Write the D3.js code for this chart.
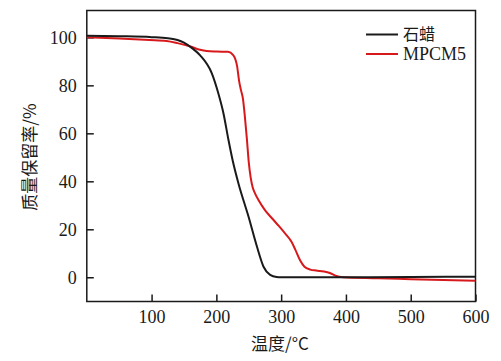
<!DOCTYPE html>
<html>
<head>
<meta charset="utf-8">
<script src="https://cdn.jsdelivr.net/npm/d3@7"></script>
<style>
  html, body { margin: 0; padding: 0; background: #fff; }
  text { font-family: "Liberation Serif", "Times New Roman", serif; fill: #1a1a1a; }
  .cjk { font-family: "Noto Sans CJK SC", sans-serif; }
</style>
</head>
<body>
<div id="container"></div>
<script>
// paraffin (石蜡)
const waxT = [0, 50, 100, 125, 140, 150, 163, 175, 193, 203, 211, 218.7, 225, 234, 249.6, 262.6, 272.8, 283, 293, 300, 400, 500, 600];
const waxV = [100.7, 100.5, 100.1, 99.6, 98.9, 97.8, 95.4, 92.5, 85, 76.7, 68.3, 57.2, 48.9, 39.2, 25.3, 12.8, 4.4, 1, 0.1, 0, 0, 0.1, 0.25];

// MPCM5
const mpcmT = [0, 50, 97, 123, 140, 160, 175, 185, 200, 218, 226, 232, 235, 238, 241, 244, 247, 250, 253, 256, 260, 265, 275, 285.8, 295, 306, 316, 322, 329, 336, 345, 354, 366, 375, 385, 395, 450, 500, 600];
const mpcmV = [100, 99.5, 98.9, 98.5, 97.6, 96.2, 94.8, 94.3, 94.1, 94, 92.6, 88, 82, 78, 74.5, 67, 58, 48, 41.5, 37.5, 34.8, 32.2, 28, 24.6, 21.8, 18.3, 14.8, 11.4, 7.2, 4.4, 3.2, 2.8, 2.4, 1.8, 0.5, 0, -0.4, -0.8, -1.4];

const xTicks = [100, 200, 300, 400, 500, 600];
const yTicks = [0, 20, 40, 60, 80, 100];
const seriesNames = ["石蜡", "MPCM5"];
const seriesColors = ["#1a1a1a", "#d7191c"];

const W = 501, H = 361;
const margin = { top: 10.5, right: 25.5, bottom: 59.5, left: 86.8 };
const width = W - margin.left - margin.right;
const height = H - margin.top - margin.bottom;

const svg = d3.select("#container").append("svg")
  .attr("width", W)
  .attr("height", H);

const g = svg.append("g")
  .attr("transform", `translate(${margin.left}, ${margin.top})`);

const x = d3.scaleLinear().domain([0, 600]).range([0, width]);
const y = d3.scaleLinear().domain([-10.1, 111.2]).range([height, 0]);

// frame
g.append("rect")
  .attr("width", width)
  .attr("height", height)
  .attr("fill", "none")
  .attr("stroke", "#1a1a1a")
  .attr("stroke-width", 1.5);

// x axis, ticks pointing inward
const xAxis = g.append("g")
  .attr("transform", `translate(0, ${height})`)
  .call(d3.axisBottom(x).tickValues(xTicks).tickSize(-7).tickPadding(9).tickFormat(d => d))
  .attr("font-family", "Liberation Serif")
  .attr("font-size", 18);
xAxis.select(".domain").remove();
xAxis.selectAll("line").attr("stroke", "#1a1a1a").attr("stroke-width", 1.5);
xAxis.selectAll("text").attr("fill", "#1a1a1a");

// y axis
const yAxis = g.append("g")
  .call(d3.axisLeft(y).tickValues(yTicks).tickSize(-7).tickPadding(10).tickFormat(d => d))
  .attr("font-family", "Liberation Serif")
  .attr("font-size", 18);
yAxis.select(".domain").remove();
yAxis.selectAll("line").attr("stroke", "#1a1a1a").attr("stroke-width", 1.5);
yAxis.selectAll("text").attr("fill", "#1a1a1a");

// curves
const line = d3.line()
  .x(d => x(d[0]))
  .y(d => y(d[1]))
  .curve(d3.curveMonotoneX);

const series = [
  waxT.map((t, i) => [t, waxV[i]]),
  mpcmT.map((t, i) => [t, mpcmV[i]])
];

g.append("path")
  .datum(series[1])
  .attr("d", line)
  .attr("fill", "none")
  .attr("stroke", seriesColors[1])
  .attr("stroke-width", 2);

g.append("path")
  .datum(series[0])
  .attr("d", line)
  .attr("fill", "none")
  .attr("stroke", seriesColors[0])
  .attr("stroke-width", 2);

// legend
const legend = g.append("g")
  .attr("transform", `translate(${366 - margin.left}, ${34.5 - margin.top})`);
seriesNames.forEach((name, i) => {
  legend.append("line")
    .attr("x1", 0).attr("x2", 32)
    .attr("y1", i * 19.5).attr("y2", i * 19.5)
    .attr("stroke", seriesColors[i])
    .attr("stroke-width", 2);
  legend.append("text")
    .attr("class", i === 0 ? "cjk" : null)
    .attr("x", 37)
    .attr("y", i * 19.5)
    .attr("dy", "0.35em")
    .style("font-size", i === 0 ? "16px" : "18px")
    .text(name);
});

// axis labels
svg.append("text")
  .attr("class", "cjk")
  .attr("x", 280)
  .attr("y", 350)
  .attr("text-anchor", "middle")
  .style("font-size", "17px")
  .text("温度/°C");

svg.append("text")
  .attr("class", "cjk")
  .attr("transform", "translate(36, 157) rotate(-90)")
  .attr("text-anchor", "middle")
  .style("font-size", "17px")
  .text("质量保留率/%");
</script>
</body>
</html>
